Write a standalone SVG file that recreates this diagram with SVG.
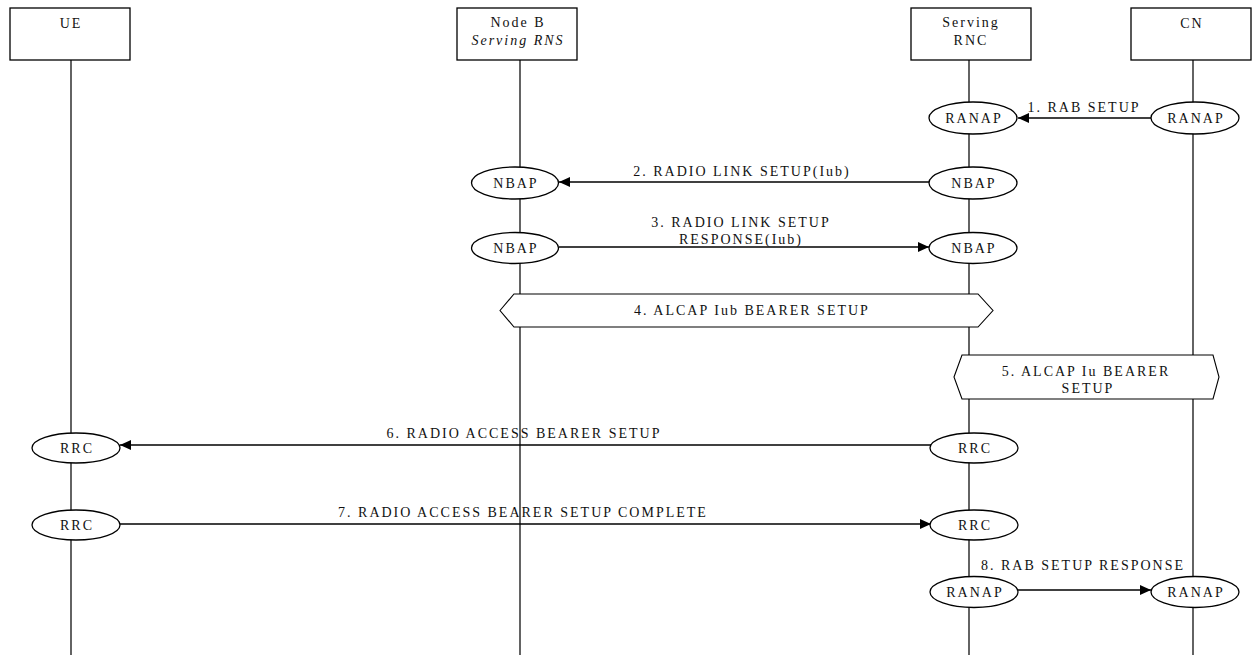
<svg xmlns="http://www.w3.org/2000/svg" width="1255" height="655" viewBox="0 0 1255 655">
<style>
text{font-family:"Liberation Serif","Times New Roman",serif;font-size:14px;letter-spacing:2px;fill:#111;text-anchor:middle}
.box{fill:#fff;stroke:#000;stroke-width:1.3}
.life{stroke:#222;stroke-width:1.4}
.ell{fill:#fff;stroke:#000;stroke-width:1.3}
.msg{stroke:#000;stroke-width:1.3;fill:none;marker-end:url(#ah)}
.hex{fill:#fff;stroke:#000;stroke-width:1.1}
</style>
<defs>
<marker id="ah" markerUnits="userSpaceOnUse" markerWidth="12" markerHeight="10" refX="11" refY="5" orient="auto">
<path d="M0,0 L11,5 L0,10 z" fill="#000"/>
</marker>
</defs>
<rect width="1255" height="655" fill="#fff"/>
<g id="lifelines">
<line class="life" x1="71" y1="60" x2="71" y2="655"/>
<line class="life" x1="520" y1="60" x2="520" y2="655"/>
<line class="life" x1="969" y1="60" x2="969" y2="655"/>
<line class="life" x1="1193" y1="60" x2="1193" y2="655"/>
</g>
<g id="node-ue"><rect class="box" x="10" y="8" width="120" height="52"/><text x="71" y="28">UE</text></g>
<g id="node-nodeb"><rect class="box" x="457" y="8" width="120" height="52"/><text x="518" y="27">Node B</text><text x="518" y="45" font-style="italic">Serving RNS</text></g>
<g id="node-rnc"><rect class="box" x="911" y="8" width="120" height="52"/><text x="971" y="27">Serving</text><text x="971" y="45">RNC</text></g>
<g id="node-cn"><rect class="box" x="1131" y="8" width="120" height="52"/><text x="1192" y="28">CN</text></g>
<g id="connectors">
<line class="msg" x1="1151" y1="118" x2="1018" y2="118"/>
<line class="msg" x1="929" y1="182" x2="559" y2="182"/>
<line class="msg" x1="559" y1="247" x2="929" y2="247"/>
<line class="msg" x1="931" y1="445" x2="120" y2="445"/>
<line class="msg" x1="120" y1="524" x2="931" y2="524"/>
<line class="msg" x1="1018" y1="590" x2="1151" y2="590"/>
</g>
<g id="labels">
<text x="1084" y="112">1. RAB SETUP</text>
<text x="742" y="176">2. RADIO LINK SETUP(Iub)</text>
<text x="741" y="227">3. RADIO LINK SETUP</text>
<text x="741" y="244">RESPONSE(Iub)</text>
<text x="524" y="438">6. RADIO ACCESS BEARER SETUP</text>
<text x="523" y="517">7. RADIO ACCESS BEARER SETUP COMPLETE</text>
<text x="1083" y="570">8. RAB SETUP RESPONSE</text>
</g>
<g id="alcap-iub"><polygon class="hex" points="500,310.5 514,294 978,294 993,310.5 978,327 514,327"/><text x="752" y="315">4. ALCAP Iub BEARER SETUP</text></g>
<g id="alcap-iu"><polygon class="hex" points="954,377 962,355 1213,355 1219,377 1213,399 962,399"/><text x="1086" y="376">5. ALCAP Iu BEARER</text><text x="1088" y="393">SETUP</text></g>
<g id="e-ranap-rnc-1"><ellipse class="ell" cx="973" cy="118" rx="44" ry="16"/><text x="974" y="123">RANAP</text></g>
<g id="e-ranap-cn-1"><ellipse class="ell" cx="1195" cy="118" rx="44" ry="16"/><text x="1196" y="123">RANAP</text></g>
<g id="e-nbap-b-2"><ellipse class="ell" cx="515" cy="183" rx="43.5" ry="16"/><text x="516" y="188">NBAP</text></g>
<g id="e-nbap-rnc-2"><ellipse class="ell" cx="973" cy="183" rx="44" ry="16"/><text x="974" y="188">NBAP</text></g>
<g id="e-nbap-b-3"><ellipse class="ell" cx="515" cy="248" rx="43.5" ry="15.5"/><text x="516" y="253">NBAP</text></g>
<g id="e-nbap-rnc-3"><ellipse class="ell" cx="973" cy="248" rx="44" ry="15.5"/><text x="974" y="253">NBAP</text></g>
<g id="e-rrc-ue-6"><ellipse class="ell" cx="76" cy="448" rx="44" ry="15"/><text x="77" y="453">RRC</text></g>
<g id="e-rrc-rnc-6"><ellipse class="ell" cx="974" cy="448" rx="44" ry="15"/><text x="975" y="453">RRC</text></g>
<g id="e-rrc-ue-7"><ellipse class="ell" cx="76" cy="525" rx="44" ry="15"/><text x="77" y="530">RRC</text></g>
<g id="e-rrc-rnc-7"><ellipse class="ell" cx="974" cy="525" rx="44" ry="15"/><text x="975" y="530">RRC</text></g>
<g id="e-ranap-rnc-8"><ellipse class="ell" cx="974" cy="592" rx="44" ry="15.5"/><text x="975" y="597">RANAP</text></g>
<g id="e-ranap-cn-8"><ellipse class="ell" cx="1195" cy="592" rx="44" ry="15.5"/><text x="1196" y="597">RANAP</text></g>
</svg>
